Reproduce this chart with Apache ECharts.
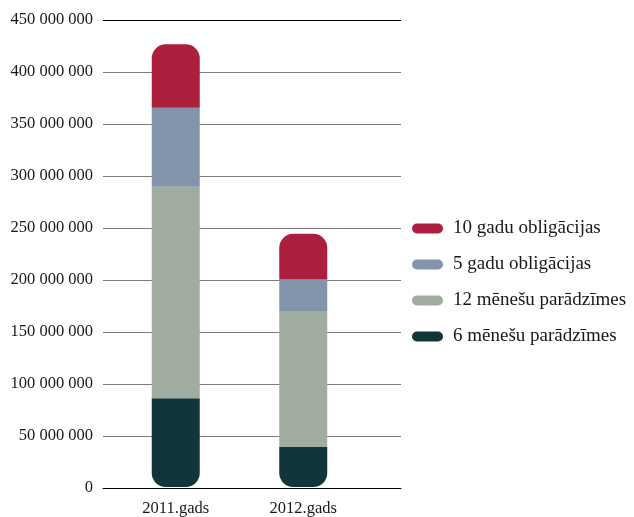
<!DOCTYPE html>
<html>
<head>
<meta charset="utf-8">
<script src="https://cdn.jsdelivr.net/npm/echarts@6/dist/echarts.min.js"></script>
<style>
  html, body { margin: 0; padding: 0; background: #fff; }
  #chart { width: 634px; height: 517px; }
</style>
</head>
<body>
<div id="chart"></div>
<script>
// dati
const years = ['2011.gads', '2012.gads'];
const menesi6 = [85600000, 38500000];
const menesi12 = [203800000, 131000000];
const gadi5 = [76000000, 30500000];
const gadi10 = [61200000, 44000000];
const yTicks = [0, 50000000, 100000000, 150000000, 200000000, 250000000, 300000000, 350000000, 400000000, 450000000];

const FONT = 'Liberation Serif';
const TXT = '#1a1718';

function fmt(v) {
  return String(v).replace(/\B(?=(\d{3})+(?!\d))/g, ' ');
}

const R = 14;
const chart = echarts.init(document.getElementById('chart'));

chart.setOption({
  animation: false,
  textStyle: { fontFamily: FONT },
  grid: [
    { left: 103, right: 233, top: 20, bottom: 29 }, // gridlines
    { left: 112, right: 267, top: 20, bottom: 29 }  // bars
  ],
  legend: {
    orient: 'vertical',
    left: 407,
    top: 214,
    itemWidth: 31,
    itemHeight: 10,
    itemGap: 17,
    icon: 'path://M5,0 H26 A5,5 0 0 1 26,10 H5 A5,5 0 0 1 5,0 Z',
    textStyle: { fontFamily: FONT, fontSize: 19, color: TXT, padding: [0, 0, 0, 5] },
    data: ['10 gadu obligācijas', '5 gadu obligācijas', '12 mēnešu parādzīmes', '6 mēnešu parādzīmes']
  },
  xAxis: [
    {
      gridIndex: 0, type: 'category', data: years,
      axisLine: { lineStyle: { color: '#000', width: 1 } },
      axisTick: { show: false }, axisLabel: { show: false }
    },
    {
      gridIndex: 1, type: 'category', data: years,
      axisLine: { show: false }, axisTick: { show: false },
      axisLabel: { margin: 13, fontFamily: FONT, fontSize: 16.5, color: TXT }
    }
  ],
  yAxis: [
    {
      gridIndex: 0, type: 'value', min: yTicks[0], max: yTicks[yTicks.length - 1], interval: 50000000,
      axisLine: { show: false }, axisTick: { show: false },
      axisLabel: { margin: 10, fontFamily: FONT, fontSize: 16.5, color: TXT, formatter: fmt },
      splitLine: { lineStyle: { color: ['#000', '#7a7a7a', '#7a7a7a', '#7a7a7a', '#7a7a7a', '#7a7a7a', '#7a7a7a', '#7a7a7a', '#7a7a7a', '#000'], width: 1 } }
    },
    {
      gridIndex: 1, type: 'value', min: yTicks[0], max: yTicks[yTicks.length - 1], interval: 50000000,
      show: false, splitLine: { show: false }
    }
  ],
  series: [
    {
      name: '6 mēnešu parādzīmes', type: 'bar', stack: 'a', xAxisIndex: 1, yAxisIndex: 1,
      barWidth: 48, data: menesi6,
      itemStyle: { color: '#10363a', borderRadius: [0, 0, R, R] }
    },
    {
      name: '12 mēnešu parādzīmes', type: 'bar', stack: 'a', xAxisIndex: 1, yAxisIndex: 1,
      barWidth: 48, data: menesi12,
      itemStyle: { color: '#9fac9f' }
    },
    {
      name: '5 gadu obligācijas', type: 'bar', stack: 'a', xAxisIndex: 1, yAxisIndex: 1,
      barWidth: 48, data: gadi5,
      itemStyle: { color: '#8395ab' }
    },
    {
      name: '10 gadu obligācijas', type: 'bar', stack: 'a', xAxisIndex: 1, yAxisIndex: 1,
      barWidth: 48, data: gadi10,
      itemStyle: { color: '#ad1f3e', borderRadius: [R, R, 0, 0] }
    }
  ]
});
</script>
</body>
</html>
